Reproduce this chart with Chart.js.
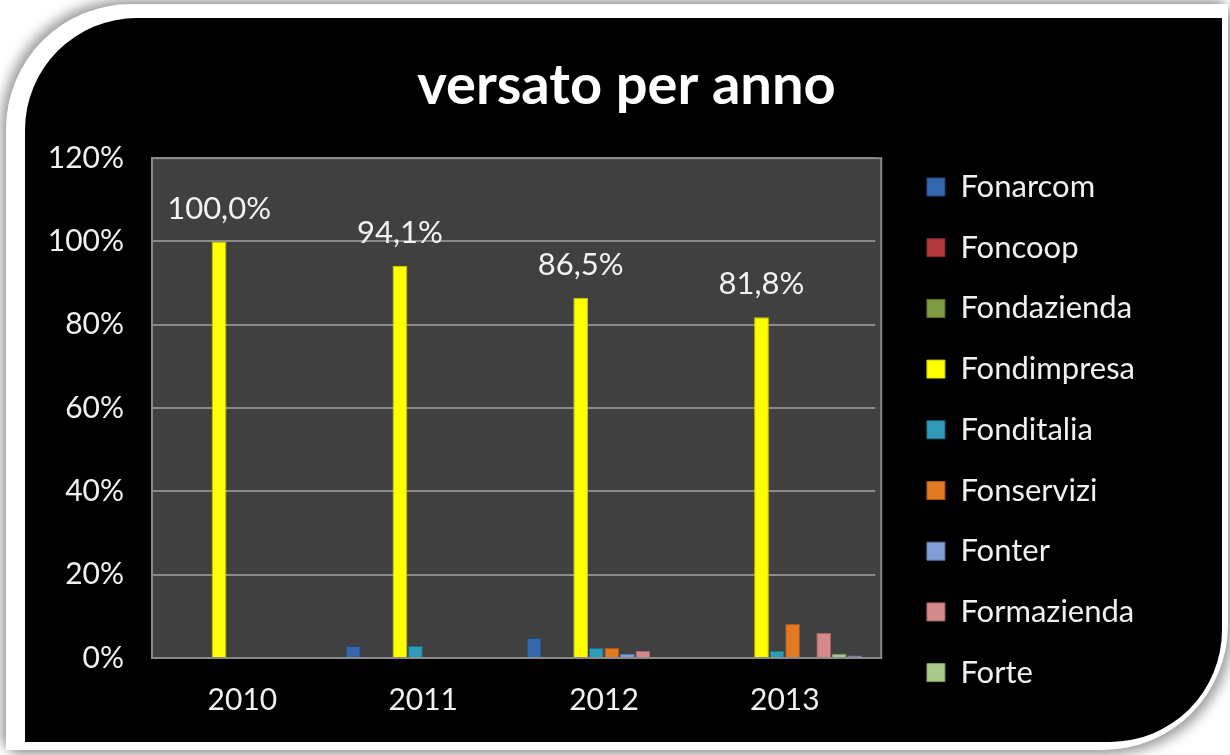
<!DOCTYPE html>
<html>
<head>
<meta charset="utf-8">
<script src="https://cdn.jsdelivr.net/npm/chart.js@4.4.1/dist/chart.umd.min.js"></script>
<style>
body { margin:0; background:#fff; width:1230px; height:755px; overflow:hidden; position:relative; }
#frame { position:absolute; left:6px; top:4px; width:1222px; height:746px; background:#fff;
  border-radius:125px 0 125px 0;
  box-shadow:-5px -5px 12px rgba(0,0,0,.35), 5px 5px 12px rgba(0,0,0,.35); }
#panel { position:absolute; left:25px; top:18px; width:1197px; height:724px; background:#000;
  border-radius:112px 0 112px 0; overflow:hidden; }
</style>
</head>
<body>
<div id="frame"></div>
<div id="panel"><canvas id="myChart" width="1197" height="724"></canvas></div>
<script>
var years = ['2010', '2011', '2012', '2013'];

var Fonarcom    = [null, 2.9, 4.8, null];
var Foncoop     = [null, null, null, null];
var Fondazienda = [null, null, null, null];
var Fondimpresa = [100.0, 94.1, 86.5, 81.8];
var Fonditalia  = [null, 2.9, 2.4, 1.7];
var Fonservizi  = [null, null, 2.4, 8.2];
var Fonter      = [null, null, 1.0, null];
var Formazienda = [null, null, 1.7, 6.0];
var Forte       = [null, null, null, 1.0];
var Altri       = [null, null, null, 0.6];

var yTicks = [0, 20, 40, 60, 80, 100, 120];

function fmt(v) {
  return v.toFixed(1).replace('.', ',') + '%';
}

function bar(label, data, fill, edge) {
  return {
    label: label,
    data: data,
    backgroundColor: fill,
    borderColor: edge,
    borderWidth: 1,
    categoryPercentage: 0.86,
    barPercentage: 0.95
  };
}

// empty side box used only as spacing
function spacer(pos, weight, w) {
  return {
    position: pos,
    weight: weight,
    display: true,
    grid: { display: false },
    border: { display: false },
    ticks: { display: false },
    afterFit: function(s) { s.width = w; }
  };
}

// grey plot background + frame
var plotBg = {
  id: 'plotBg',
  beforeDraw: function(chart) {
    var a = chart.chartArea, ctx = chart.ctx;
    ctx.save();
    ctx.fillStyle = '#404040';
    ctx.fillRect(a.left, a.top, a.right - a.left + 6, a.bottom - a.top);
    ctx.strokeStyle = '#8a8a8a';
    ctx.lineWidth = 2;
    ctx.strokeRect(a.left, a.top, a.right - a.left + 6, a.bottom - a.top);
    ctx.restore();
  }
};

// percentage labels over the Fondimpresa bars
var valueLabels = {
  id: 'valueLabels',
  afterDatasetsDraw: function(chart) {
    var meta = chart.getDatasetMeta(3);
    var ctx = chart.ctx;
    ctx.save();
    ctx.fillStyle = '#f2f2f2';
    ctx.font = '31px Lato';
    ctx.textAlign = 'center';
    ctx.textBaseline = 'middle';
    meta.data.forEach(function(b, i) {
      ctx.fillText(fmt(Fondimpresa[i]), b.x, b.y - 33);
    });
    ctx.restore();
  }
};

// let the legend be wider than the default side-box limit
var wideLegend = {
  id: 'wideLegend',
  afterInit: function(chart) {
    var lg = chart.legend;
    var up = lg.update;
    lg.update = function(w, h, m) { return up.call(this, Math.max(w, 320), h, m); };
  }
};

var ctx = document.getElementById('myChart');
var myChart = new Chart(ctx, {
  type: 'bar',
  data: {
    labels: years,
    datasets: [
      bar('Fonarcom', Fonarcom, '#3567ad', '#24497d'),
      bar('Foncoop', Foncoop, '#b33a3a', '#822828'),
      bar('Fondazienda', Fondazienda, '#809c42', '#5c722e'),
      bar('Fondimpresa', Fondimpresa, '#ffff00', '#c8c800'),
      bar('Fonditalia', Fonditalia, '#2f9bb9', '#216f86'),
      bar('Fonservizi', Fonservizi, '#e37a22', '#a85816'),
      bar('Fonter', Fonter, '#7f9fd6', '#5d77a6'),
      bar('Formazienda', Formazienda, '#d48a8a', '#a56464'),
      bar('Forte', Forte, '#a9c98b', '#7e9866'),
      bar('Altri', Altri, '#9d8dc9', '#7566a0')
    ]
  },
  options: {
    responsive: false,
    devicePixelRatio: 1,
    animation: false,
    layout: { padding: { left: 23, right: 17, top: 0, bottom: 14 } },
    plugins: {
      title: {
        display: true,
        text: 'versato per anno',
        color: '#ffffff',
        font: { family: 'Lato', size: 56, weight: 'bold' },
        padding: { top: 34, bottom: 39 }
      },
      legend: {
        position: 'right',
        align: 'start',
        title: { display: true, text: ' ', font: { size: 10 }, padding: { top: 111.8, bottom: 0 } },
        labels: {
          color: '#f0f0f0',
          font: { family: 'Lato', size: 31 },
          boxWidth: 18,
          boxHeight: 18,
          padding: 29.7,
          filter: function(item) { return item.text !== 'Altri'; }
        }
      },
      tooltip: { enabled: false }
    },
    scales: {
      x: {
        grid: { display: false },
        border: { display: true, color: '#8a8a8a', width: 2 },
        ticks: { color: '#f0f0f0', font: { family: 'Lato', size: 30 }, padding: 16 },
        afterFit: function(s) { s.height = 70; }
      },
      y: {
        min: 0,
        max: 120,
        afterBuildTicks: function(s) { s.ticks = yTicks.map(function(v) { return { value: v }; }); },
        grid: { color: '#8a8a8a', lineWidth: 2, drawTicks: false },
        border: { display: true, color: '#8a8a8a', width: 2 },
        ticks: {
          color: '#f0f0f0',
          font: { family: 'Lato', size: 30 },
          padding: 28,
          callback: function(v) { return v + '%'; }
        },
        afterFit: function(s) { s.width = 104; }
      },
      gap: spacer('right', 0, 22),
      edge: spacer('right', 2000, 60)
    }
  },
  plugins: [plotBg, valueLabels, wideLegend]
});
</script>
</body>
</html>
